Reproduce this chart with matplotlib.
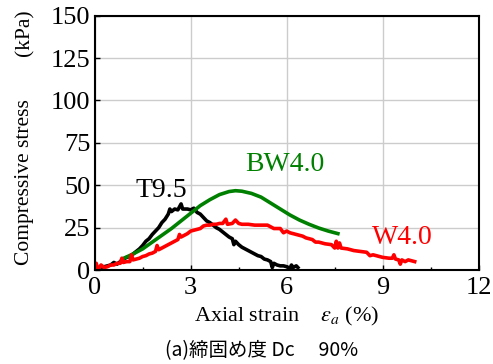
import numpy as np
import matplotlib
matplotlib.use("Agg")
import matplotlib.pyplot as plt
from matplotlib.ticker import MultipleLocator

plt.rcParams['font.family'] = ['Liberation Serif', 'DejaVu Serif']
plt.rcParams['mathtext.fontset'] = 'stix'

# T9.5 (black)
t95_strain = [0.0, 0.1, 0.2, 0.3, 0.5, 0.6, 0.7, 0.9, 1.0, 1.1, 1.2, 1.3, 1.4, 1.5,
              1.6, 1.7, 1.8, 1.9, 2.0, 2.1, 2.2, 2.3, 2.35, 2.4, 2.5, 2.6, 2.7, 2.75,
              2.9, 3.0, 3.1, 3.2, 3.3, 3.4, 3.5, 3.6, 3.7, 3.8, 3.9, 4.0, 4.1, 4.2,
              4.3, 4.35, 4.4, 4.5, 4.6, 4.7, 4.8, 4.9, 5.0, 5.1, 5.2, 5.3, 5.4, 5.5,
              5.55, 5.6, 5.7, 5.8, 5.9, 6.0, 6.1, 6.15, 6.2, 6.3, 6.35]
t95_stress = [0, 1, 0.5, 2, 3, 4.5, 3.5, 6.5, 7.5, 8, 9.5, 11, 12.5, 14.5,
              17, 18.5, 21, 23, 25, 28, 30, 33, 36, 34.5, 36, 35.5, 39, 36,
              36, 35.5, 36.5, 34, 33, 31, 29, 28, 26.5, 25, 24, 22.5, 21, 19.5,
              18.5, 15, 17, 15, 13.5, 12.5, 11.5, 10.5, 9.5, 8.5, 8, 6.5, 6, 5,
              1.5, 4, 3, 2.5, 2.5, 2, 1, 3, 1.5, 2.5, 1.5]

# BW4.0 (green)
bw40_strain = [0.9, 1.2, 1.5, 1.8, 2.1, 2.4, 2.7, 3.0, 3.3, 3.6, 3.9, 4.2, 4.4,
               4.6, 4.9, 5.2, 5.5, 5.8, 6.1, 6.4, 6.7, 7.0, 7.3, 7.6]
bw40_stress = [6.9, 9.5, 12.5, 16.5, 20.5, 24.5, 29, 33.5, 38, 41.5, 44.5, 46.3, 46.8,
               46.5, 45.2, 43, 39.5, 36, 32.5, 29.5, 27, 24.8, 23, 21.5]

# W4.0 (red)
w40_strain = [0.0, 0.05, 0.1, 0.2, 0.3, 0.4, 0.5, 0.6, 0.7, 0.8, 0.85, 0.9, 1.0, 1.1,
              1.15, 1.2, 1.3, 1.4, 1.5, 1.6, 1.7, 1.8, 1.9, 1.95, 2.0, 2.1, 2.2, 2.3,
              2.4, 2.5, 2.6, 2.65, 2.7, 2.8, 2.9, 3.0, 3.1, 3.2, 3.3, 3.4, 3.5, 3.6,
              3.7, 3.8, 3.9, 4.0, 4.1, 4.15, 4.3, 4.4, 4.5, 4.6, 4.8, 5.0, 5.2, 5.4,
              5.5, 5.6, 5.8, 5.9, 6.0, 6.1, 6.2, 6.3, 6.5, 6.6, 6.8, 6.9, 7.0, 7.2,
              7.4, 7.5, 7.55, 7.6, 7.65, 7.7, 7.9, 8.1, 8.3, 8.5, 8.6, 8.7, 8.9, 9.0,
              9.2, 9.3, 9.35, 9.4, 9.5, 9.55, 9.6, 9.7, 9.8, 10.0]
w40_stress = [1, 4, 0, 3, 1.5, 2, 3, 3, 4, 4, 7, 4.5, 5, 5,
              9, 6, 6.5, 7, 8, 8.5, 9.5, 10, 11, 14.5, 12, 13, 14, 15,
              16, 17, 18, 21, 19.5, 20.5, 21.5, 23, 23.5, 24, 24.5, 26, 26.5, 26.5,
              27, 27, 27.5, 27.5, 30, 27, 27.5, 29.5, 27.5, 27, 27, 26.5, 26.5, 26.5,
              25.5, 24.5, 24.5, 22, 23, 22, 21.5, 21, 20, 19, 18, 16.5, 16.5, 15.5,
              15, 13, 17, 13, 16, 13, 12.5, 11.5, 11, 10.5, 8.5, 9, 8, 7.5,
              7, 7, 9, 6.5, 6, 3.5, 6, 5, 6, 5]

fig = plt.figure(figsize=(4.93, 3.64), dpi=100)
ax = fig.add_axes([0.192, 0.258, 0.779, 0.699])

ax.plot(t95_strain, t95_stress, color='black', lw=2.6)
ax.plot(bw40_strain, bw40_stress, color='green', lw=2.6)
ax.plot(w40_strain, w40_stress, color='red', lw=2.6)

ax.text(2.08, 47, 'T9.5', fontsize=20, ha='center', va='center', color='black')
ax.text(5.95, 62, 'BW4.0', fontsize=20, ha='center', va='center', color='green')
ax.text(9.6, 19, 'W4.0', fontsize=20, ha='center', va='center', color='red')

ax.set_xlim(0, 12)
ax.set_ylim(0, 150)
ax.xaxis.set_major_locator(MultipleLocator(3))
ax.xaxis.set_minor_locator(MultipleLocator(1.5))
ax.yaxis.set_major_locator(MultipleLocator(25))
ax.grid(True, color='#cccccc', lw=1)
ax.set_axisbelow(True)
ax.tick_params(which='both', direction='in', labelsize=19, width=1)
ax.tick_params(axis='x', pad=5)
ax.tick_params(axis='y', pad=3)
for s in ax.spines.values():
    s.set_linewidth(1.5)

ax.set_xlabel(r'Axial strain    $\varepsilon_a$ (%)', fontsize=16, labelpad=4)
fig.text(0.05, 0.50, 'Compressive stress', rotation=90, fontsize=15.5, ha='center', va='center')
fig.text(0.05, 0.91, '(kPa)', rotation=90, fontsize=15.5, ha='center', va='center')

fig.text(0.53, 0.038, '(a)締固め度 Dc\u3000 90%', fontsize=14, ha='center', va='center',
         family=['Noto Sans CJK JP', 'DejaVu Sans'])

fig.savefig('out.png', dpi=100)
